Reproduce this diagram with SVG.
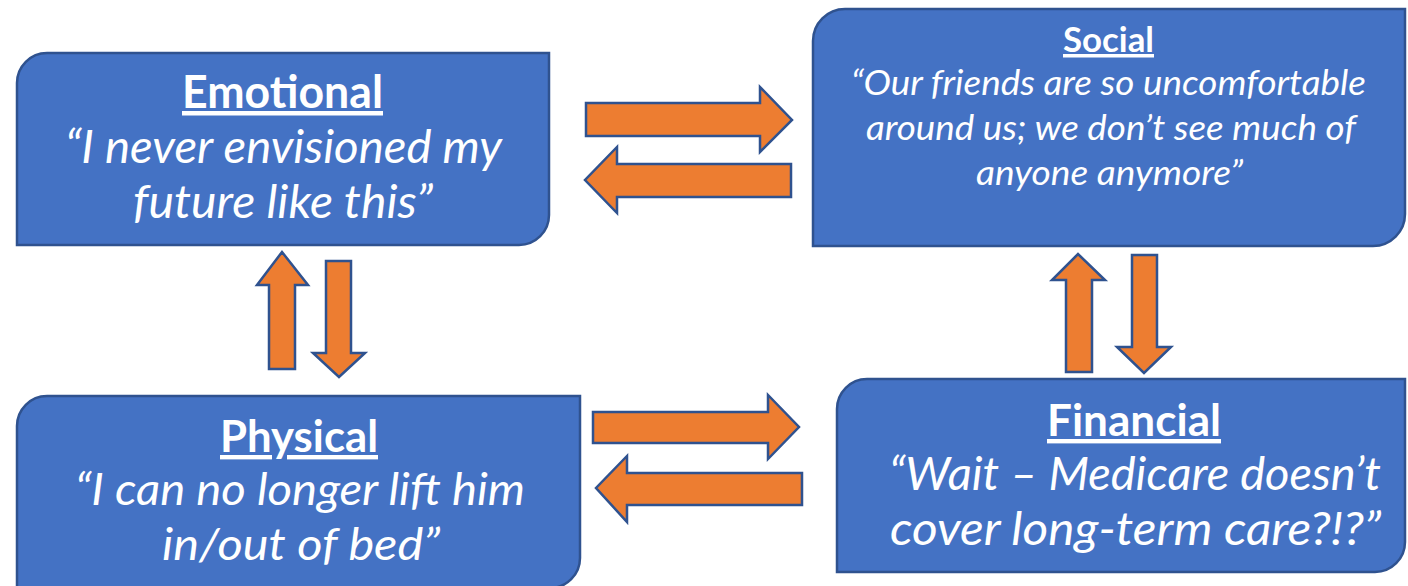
<svg xmlns="http://www.w3.org/2000/svg" width="1408" height="586" viewBox="0 0 1408 586">
<style>
.box{fill:#4472C4;stroke:#2F528F;stroke-width:2.5}
.arr{fill:#ED7D31;stroke:#2F528F;stroke-width:2.5;stroke-linejoin:miter}
text{font-family:Lato,"Open Sans",sans-serif;fill:#FFFFFF;text-anchor:middle}
.t{font-weight:bold;text-decoration:underline}
.q{font-style:italic}
</style>
<rect width="1408" height="586" fill="#FFFFFF"/>
<g id="emotional">
<path class="box" d="M17,83 A30,30 0 0 1 47,53 H549 V215 A30,30 0 0 1 519,245 H17 Z"/>
<text class="t" x="282.5" y="108" font-size="45" textLength="201" lengthAdjust="spacingAndGlyphs">Emotional</text>
<text class="q" x="283.5" y="163" font-size="46" textLength="437" lengthAdjust="spacingAndGlyphs">“I never envisioned my</text>
<text class="q" x="283" y="218" font-size="46" textLength="300" lengthAdjust="spacingAndGlyphs">future like this”</text>
</g>
<g id="social">
<path class="box" d="M813,41 A32,32 0 0 1 845,9 H1405 V214 A32,32 0 0 1 1373,246 H813 Z"/>
<text class="t" x="1108.5" y="52" font-size="35" textLength="91" lengthAdjust="spacingAndGlyphs">Social</text>
<text class="q" x="1108.5" y="95" font-size="35" textLength="515" lengthAdjust="spacingAndGlyphs">“Our friends are so uncomfortable</text>
<text class="q" x="1111" y="140" font-size="35" textLength="490" lengthAdjust="spacingAndGlyphs">around us; we don’t see much of</text>
<text class="q" x="1109.5" y="185" font-size="35" textLength="267" lengthAdjust="spacingAndGlyphs">anyone anymore”</text>
</g>
<g id="physical">
<path class="box" d="M17,426 A30,30 0 0 1 47,396 H580 V558 A30,30 0 0 1 550,588 H17 Z"/>
<text class="t" x="299" y="452" font-size="44" textLength="158" lengthAdjust="spacingAndGlyphs">Physical</text>
<text class="q" x="300" y="505" font-size="45" textLength="450" lengthAdjust="spacingAndGlyphs">“I can no longer lift him</text>
<text class="q" x="301" y="560" font-size="45" textLength="278" lengthAdjust="spacingAndGlyphs">in/out of bed”</text>
</g>
<g id="financial">
<path class="box" d="M837,409 A30,30 0 0 1 867,379 H1405 V542 A30,30 0 0 1 1375,572 H837 Z"/>
<text class="t" x="1134" y="436" font-size="44" textLength="174" lengthAdjust="spacingAndGlyphs">Financial</text>
<text class="q" x="1135" y="490" font-size="46" textLength="492" lengthAdjust="spacingAndGlyphs">“Wait – Medicare doesn’t</text>
<text class="q" x="1135.5" y="545" font-size="46" textLength="491" lengthAdjust="spacingAndGlyphs">cover long-term care?!?”</text>
</g>
<g id="connectors">
<path class="arr" d="M586,103 H760 V87 L792,120 L760,152 V136 H586 Z"/>
<path class="arr" d="M791,164 H617 V147 L585,180 L617,213 V197 H791 Z"/>
<path class="arr" d="M269,369 V285 H257 L282,252 L308,285 H295 V369 Z"/>
<path class="arr" d="M326,261 H351 V353 H365 L339,377 L313,353 H326 Z"/>
<path class="arr" d="M1066,372 V280 H1052 L1078,254 L1105,280 H1092 V372 Z"/>
<path class="arr" d="M1132,255 H1157 V347 H1171 L1144,373 L1117,347 H1132 Z"/>
<path class="arr" d="M593,412 H768 V395 L799,427 L768,459 V443 H593 Z"/>
<path class="arr" d="M802,473 H627 V456 L596,488 L627,522 V505 H802 Z"/>
</g>
</svg>
